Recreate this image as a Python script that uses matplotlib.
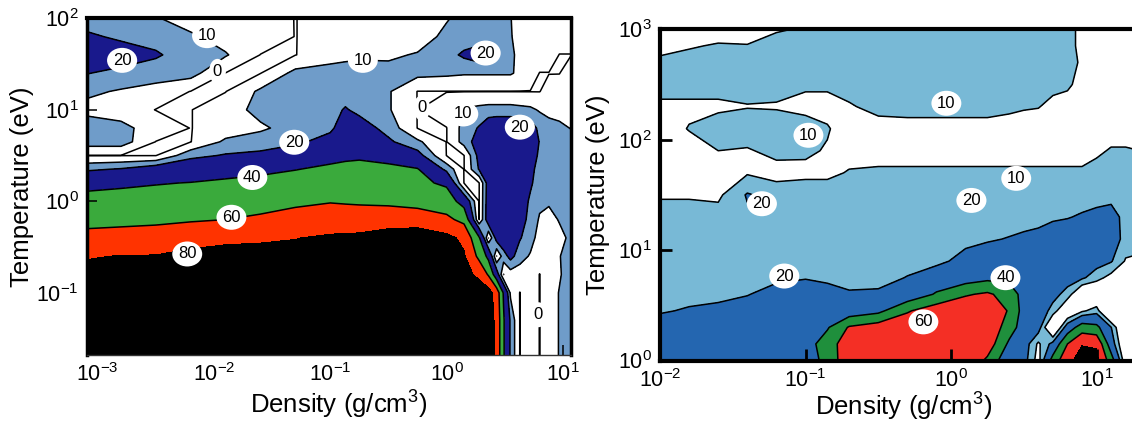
import numpy as np
import matplotlib
matplotlib.use("Agg")
import matplotlib.pyplot as plt

plt.rcParams['font.family'] = ['Liberation Sans', 'DejaVu Sans']
plt.rcParams['mathtext.fontset'] = 'custom'
plt.rcParams['mathtext.rm'] = 'Liberation Sans'
plt.rcParams['mathtext.it'] = 'Liberation Sans'
plt.rcParams['mathtext.default'] = 'regular'

# ---------------- LEFT PANEL DATA (log10 density, log10 temperature) ----------------
left_log_rho = [-3.1, -2.8, -2.5, -2.2, -1.9, -1.6, -1.3, -1.0, -0.87, -0.75, -0.5, -0.25,
                0.0, 0.15, 0.28, 0.36, 0.43, 0.49, 0.55, 0.63, 0.72, 0.80, 0.88, 0.97, 1.07]
left_log_T = [-1.7, -1.3, -1.0, -0.8, -0.6, -0.4, -0.2, 0.0, 0.2, 0.35, 0.5, 0.65, 0.8,
              1.0, 1.2, 1.4, 1.6, 1.8, 2.0]
# one column of values per density (bottom -> top in temperature)
L_rho_m3p10 = [95, 92, 88, 84, 79, 65, 55, 46, 35, 18, -0.2, 15, 16, 7, 12, 20.5, 28, 22, 15]
L_rho_m2p80 = [95, 92, 88, 84, 80.5, 66, 56, 47, 37, 21, -0.2, 15, 13, 5, 9, 17, 26, 18, 14]
L_rho_m2p50 = [95, 92, 88, 84.5, 81, 67, 57, 48, 39, 28, -0.2, -0.2, 5, -0.2, 5, 16, 21, 17, 11]
L_rho_m2p20 = [95, 92, 88, 85, 84, 74, 58, 49, 40.5, 30, 17, -0.2, -0.2, -0.2, -0.2, 14, 16, 12, 4]
L_rho_m1p90 = [96, 93, 89, 86, 85, 77, 60, 51, 43, 33, 21, 12, 4, 4, -0.2, -0.2, 11, 5, 4]
L_rho_m1p60 = [96, 93, 89.5, 87, 85, 78, 63, 53, 45, 36, 22, 16, 8, 14, 12, -0.2, -0.2, 5, 4]
L_rho_m1p30 = [96, 93, 90, 87.5, 85.5, 79.5, 66, 57, 47, 39.5, 27, 18, 15, 15, 14, 13, -0.2, -0.2, -0.2]
L_rho_m1p00 = [96, 94, 91, 88, 86, 82.5, 70, 59, 50, 43, 35, 24, 18, 16, 15, 15, 5, 4, 4]
L_rho_m0p87 = [97, 94, 91.5, 88.5, 86.5, 83, 71, 58, 50, 44, 37, 31, 26, 21, 15, 15, 7, 4, 4]
L_rho_m0p75 = [97, 94.5, 91.5, 89, 87, 83, 72, 57, 50, 44, 38, 32, 26, 17, 15, 15, 8, 4, 4]
L_rho_m0p50 = [97, 95, 92, 89.5, 87.5, 85, 75, 55, 47, 42, 37, 22, 16, 11, 11, 14, 8, 4, 4]
L_rho_m0p25 = [97, 95, 92.5, 90, 88, 85, 76, 50, 44, 41, 25, 12, -0.2, -0.2, -0.2, 13, 11, 4, 4]
L_rho_p0p00 = [97, 95, 92.5, 90, 88, 85, 64, 50, 37, 17, -0.2, -0.2, -0.2, 4, -0.2, 12, 16, 13, 9]
L_rho_p0p15 = [97, 96, 93, 86, 82, 76, 55, 32, -0.2, -0.2, -0.2, 14, 14, 11, -0.2, 11, 22, 14, 14]
L_rho_p0p28 = [96, 95, 90, 76, 55, 42, -0.2, -0.2, -0.2, 21, 24, 26, 21, 13, -0.2, 11, 26, 14, 14]
L_rho_p0p36 = [92, 91, 88, 58, 35, -0.2, 28, 27, 26, 30, 30, 32, 28, 14, -0.2, 11, 22, 14, 14]
L_rho_p0p43 = [75, 75, 72, 28, -0.2, 25, 32, 33, 32, 33, 32, 33, 30, 14, -0.2, 11, 14, 14, 14]
L_rho_p0p49 = [42, 42, 38, -0.2, 15, 30, 33, 33, 32, 33, 32, 33, 30, 14, -0.2, 11, 14, 13, 13]
L_rho_p0p55 = [18, 18, 8, 5, 24, 30, 30, 32, 32, 32, 32, 33, 30, 14, -0.2, 11, 13, 11, 10.5]
L_rho_p0p63 = [-0.2, -0.2, -0.2, 5, 14, 21, 26, 28, 30, 30, 30, 31, 29, 13, -0.2, 8, 6, 5, 4]
L_rho_p0p72 = [5, 5, 5, 5, 9, 14, 16, 18, 22, 24, 26, 28, 26, 12, -0.2, 4, 4, 4, 4]
L_rho_p0p80 = [-0.2, -0.2, -0.2, -0.2, 5, 6, 9, 12, 14, 15, 18, 19.5, 17, 9, -0.2, -0.2, 4, 4, 4]
L_rho_p0p88 = [5, 5, 5, 5, 5, 5, 5, 12, 14, 14, 14, 15, 15, 6, 3, -0.2, 4, 4, 4]
L_rho_p0p97 = [10.5, 10.5, 10.5, 9, 9.5, 6, 11, 13, 14, 14, 14, 14, 13, 5, 4, -0.2, -0.2, 4, 4]
L_rho_p1p07 = [15, 15, 15, 15, 15, 13, 15, 15, 15, 15, 15, 15, 9.5, 5, 4, 4, -0.2, 4, 4]

left_labels = [(-2.06, 1.81, '10'), (-2.79, 1.54, '20'), (-1.97, 1.42, '0'),
               (-0.72, 1.54, '10'), (0.336, 1.62, '20'), (-0.214, 1.02, '0'),
               (0.144, 0.954, '10'), (0.63, 0.81, '20'), (-1.31, 0.645, '20'),
               (-1.67, 0.26, '40'), (-1.85, -0.175, '60'), (-2.23, -0.576, '80'),
               (0.79, -1.24, '0')]

# ---------------- RIGHT PANEL DATA ----------------
right_log_rho = [-2.0, -1.8, -1.6, -1.4, -1.2, -1.0, -0.85, -0.7, -0.5, -0.3, -0.1, 0.1,
                 0.25, 0.4, 0.5, 0.6, 0.7, 0.8, 0.9, 1.0, 1.1, 1.2, 1.3, 1.45]
right_log_T = [0.0, 0.15, 0.3, 0.45, 0.6, 0.75, 0.9, 1.1, 1.3, 1.5, 1.7, 1.9, 2.1, 2.3,
               2.5, 2.7, 2.85, 3.0]
R_rho_m2p00 = [30, 28, 25, 19, 17, 16, 15, 15, 14, 9, 5, 5, 5, 8, 14, 12, 7, 5]
R_rho_m1p80 = [30, 28, 26, 21, 17, 16, 15, 15, 14, 9, 5, 6, 10.5, 8, 14, 14, 9, 5]
R_rho_m1p60 = [30, 28, 27, 23, 17, 16, 15, 15, 14, 8, 4, 10, 15, 8, 14, 15, 11, 5]
R_rho_m1p40 = [30, 29, 28, 25, 19.5, 17, 16, 15, 18, 21, 9, 9, 16, 9.5, 14, 15, 10.5, 5]
R_rho_m1p20 = [31, 30, 29, 27, 24, 18, 16, 15, 15, 16, 6, 13, 16, 9, 14, 15, 14, 9]
R_rho_m1p00 = [30, 31, 30, 28, 25, 19.5, 16, 15, 15, 17, 7, 12, 16, 6, 12, 15, 15, 11]
R_rho_m0p85 = [46, 50, 38, 30, 24, 18, 16, 15, 15, 17, 7, 9, 11, 6, 12, 15, 15, 12]
R_rho_m0p70 = [75, 72, 62, 28, 21, 17, 16, 15, 15, 16, 11, 5, 4, 9, 14, 15, 15, 14]
R_rho_m0p50 = [75, 74, 70, 35, 22, 16, 16, 15, 15, 16, 12, 5, 6, 13, 15, 16, 16, 15]
R_rho_m0p30 = [76, 76, 74, 58, 26, 20.5, 16, 15, 15, 16, 12, 5, 7, 13, 15, 16, 16, 15]
R_rho_m0p10 = [77, 77, 76, 72, 42, 28, 17, 15, 15, 16, 12, 5, 7, 13, 15, 16, 16, 15]
R_rho_p0p10 = [78, 78, 77, 75, 58, 30, 24, 17, 16, 21, 12, 5, 7, 13, 15, 16, 16, 15]
R_rho_p0p25 = [56, 72, 76, 77, 63, 35, 26, 19, 16, 15, 12, 5, 7, 13, 15, 16, 16, 15]
R_rho_p0p40 = [24, 36, 50, 58, 52, 34, 27, 20.5, 16, 15, 12, 5, 6, 12, 15, 16, 16, 15]
R_rho_p0p50 = [25, 27, 30, 32, 32, 31, 29, 22, 16, 15, 12, 5, 5, 11, 15, 16, 16, 15]
R_rho_p0p60 = [5, 8, 26, 28, 29, 29, 28, 23, 17, 16, 12, 5, 4, 10.5, 14, 15, 15, 15]
R_rho_p0p70 = [48, 24, -10, 16, 24, 27, 28, 24, 19, 16, 12, 5, 4, 7, 13, 15, 15, 15]
R_rho_p0p80 = [75, 60, 28, -5, 16, 25, 28, 26, 19.5, 16, 12, 5, 4, 5, 12, 15, 15, 15]
R_rho_p0p90 = [88, 79, 50, 8, -5, 22, 26, 27, 21, 16, 12, 5, 4, 4, 6, 8, 6, 6]
R_rho_p1p00 = [85, 78, 45, 15, -5, 14, 25, 28, 23, 16, 14, 8, 4, 4, 4, 4, 4, 4]
R_rho_p1p10 = [50, 28, 20.5, -15, -10, 6, 21, 27, 24, 17, 15, 11, 5, 4, 4, 4, 4, 4]
R_rho_p1p20 = [0, -5, -10, -10, -5, 0, 9, 16, 17, 17, 16, 11, 5, 4, 4, 4, 4, 4]
R_rho_p1p30 = [0, -5, -10, -10, -5, 2, 8, 14, 15, 15, 14, 10, 5, 4, 4, 4, 4, 4]
R_rho_p1p45 = [0, -5, -10, -10, -5, 2, 8, 14, 15, 15, 14, 10, 5, 4, 4, 4, 4, 4]

right_labels = [(-0.032, 2.33, '10'), (-0.98, 2.04, '10'), (0.448, 1.65, '10'),
                (-1.30, 1.42, '20'), (0.14, 1.45, '20'), (-1.146, 0.765, '20'),
                (0.374, 0.75, '40'), (-0.19, 0.35, '60')]

left_colors = ['white', '#6f9cc9', '#19198c', '#3aaa3c', '#ff3300', 'black']
right_colors = ['white', '#78b9d6', '#2466b0', '#1f8f3c', '#f42f25', 'black']
fill_levels = [-100, 10, 20, 40, 60, 80, 200]

Z_left = np.column_stack([L_rho_m3p10, L_rho_m2p80, L_rho_m2p50, L_rho_m2p20, L_rho_m1p90,
                          L_rho_m1p60, L_rho_m1p30, L_rho_m1p00, L_rho_m0p87, L_rho_m0p75,
                          L_rho_m0p50, L_rho_m0p25, L_rho_p0p00, L_rho_p0p15, L_rho_p0p28,
                          L_rho_p0p36, L_rho_p0p43, L_rho_p0p49, L_rho_p0p55, L_rho_p0p63,
                          L_rho_p0p72, L_rho_p0p80, L_rho_p0p88, L_rho_p0p97, L_rho_p1p07])
Z_right = np.column_stack([R_rho_m2p00, R_rho_m1p80, R_rho_m1p60, R_rho_m1p40, R_rho_m1p20,
                           R_rho_m1p00, R_rho_m0p85, R_rho_m0p70, R_rho_m0p50, R_rho_m0p30,
                           R_rho_m0p10, R_rho_p0p10, R_rho_p0p25, R_rho_p0p40, R_rho_p0p50,
                           R_rho_p0p60, R_rho_p0p70, R_rho_p0p80, R_rho_p0p90, R_rho_p1p00,
                           R_rho_p1p10, R_rho_p1p20, R_rho_p1p30, R_rho_p1p45])

W, H = 1132, 421
fig = plt.figure(figsize=(W / 100, H / 100), dpi=100)

def px_axes(x0, y0, x1, y1):
    return fig.add_axes([x0 / W, 1 - y1 / H, (x1 - x0) / W, (y1 - y0) / H])

ax1 = px_axes(87, 18, 571, 355)
ax2 = px_axes(660, 29.3, 1160, 360.5)

def sup(n):
    return '$10^{%d}$' % n

# ---- left
ax1.contourf(left_log_rho, left_log_T, Z_left, levels=fill_levels, colors=left_colors)
ax1.contour(left_log_rho, left_log_T, Z_left, levels=[0, 10, 20, 40, 60], colors='black',
            linewidths=1.1)
ax1.set_xlim(-3.092, 1.07)
ax1.set_ylim(-1.68, 2.003)
for x, y, t in left_labels:
    ax1.text(x, y, t, ha='center', va='center', fontsize=12, zorder=5,
             bbox=dict(boxstyle='ellipse,pad=0.08', fc='white', ec='none'))
ax1.set_xticks([-3, -2, -1, 0, 1])
ax1.set_xticklabels([sup(n) for n in [-3, -2, -1, 0, 1]])
ax1.set_yticks([-1, 0, 1, 2])
ax1.set_yticklabels([sup(n) for n in [-1, 0, 1, 2]])
ax1.tick_params(direction='in', length=7, width=1.1, labelsize=15.5, pad=6,
                top=False, right=False)
for t, c in zip(ax1.xaxis.get_major_ticks(), ['white', 'white', 'white', 'white', 'black']):
    t.tick1line.set_color(c)
for t, c in zip(ax1.yaxis.get_major_ticks(), ['white', 'black', 'black', 'black']):
    t.tick1line.set_color(c)
ax1.spines['top'].set_linewidth(3)
ax1.spines['right'].set_linewidth(2.5)
ax1.spines['left'].set_linewidth(2.5)
ax1.spines['bottom'].set_linewidth(1.0)
ax1.spines['bottom'].set_color('#333333')
ax1.set_xlabel('Density (g/cm$^3$)', fontsize=18.5)
ax1.xaxis.set_label_coords(0.519, -0.148)
ax1.xaxis.label.set_va('center')
ax1.set_ylabel('Temperature (eV)', fontsize=18.5)
ax1.yaxis.set_label_coords(-0.134, 0.5)
ax1.yaxis.label.set_va('center')

# ---- right
ax2.contourf(right_log_rho, right_log_T, Z_right, levels=fill_levels, colors=right_colors)
ax2.contour(right_log_rho, right_log_T, Z_right, levels=[10, 20, 40, 60], colors='black',
            linewidths=1.1)
ax2.set_xlim(-2.0, 1.436)
ax2.set_ylim(0, 3)
for x, y, t in right_labels:
    ax2.text(x, y, t, ha='center', va='center', fontsize=12, zorder=5,
             bbox=dict(boxstyle='ellipse,pad=0.08', fc='white', ec='none'))
ax2.set_xticks([-2, -1, 0, 1])
ax2.set_xticklabels([sup(n) for n in [-2, -1, 0, 1]])
ax2.set_yticks([0, 1, 2, 3])
ax2.set_yticklabels([sup(n) for n in [0, 1, 2, 3]])
ax2.tick_params(direction='in', length=8.5, width=2.0, labelsize=15.5, pad=6,
                top=False, right=False)
for t, c in zip(ax2.xaxis.get_major_ticks(), ['black', 'black', 'black', 'white']):
    t.tick1line.set_color(c)
for sp in ['top', 'bottom', 'left']:
    ax2.spines[sp].set_linewidth(3)
ax2.spines['right'].set_visible(False)
ax2.set_xlabel('Density (g/cm$^3$)', fontsize=18.5)
ax2.xaxis.set_label_coords(0.487, -0.14)
ax2.xaxis.label.set_va('center')
ax2.set_ylabel('Temperature (eV)', fontsize=18.5)
ax2.yaxis.set_label_coords(-0.124, 0.5)
ax2.yaxis.label.set_va('center')

fig.savefig('out.png', dpi=100)
